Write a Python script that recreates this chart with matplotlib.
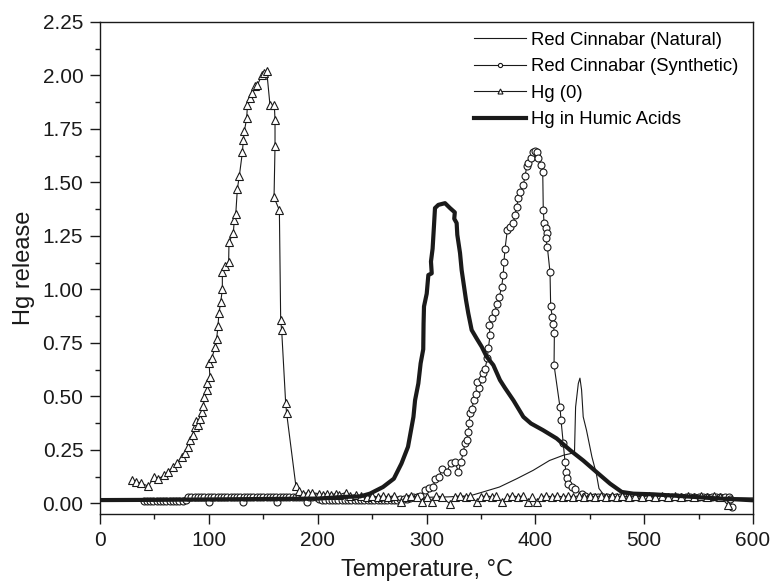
import matplotlib
matplotlib.use("Agg")
import matplotlib.pyplot as plt
from matplotlib.ticker import MultipleLocator, FormatStrFormatter

plt.rcParams["font.family"] = ["Liberation Sans", "DejaVu Sans"]

# Red Cinnabar (Natural) - thin line, no markers
nat_t = [0, 20, 40, 60, 80, 100, 120, 140, 160, 180, 200, 220, 240, 260, 280,
         300, 320, 340, 352, 367, 383, 398, 413, 426, 433, 436, 437, 439.5, 441,
         442.5, 444, 447, 452, 456, 458.5, 462.5, 470, 490, 520, 550, 580, 600]
nat_v = [0.018, 0.018, 0.02, 0.02, 0.02, 0.022, 0.022, 0.022, 0.024, 0.024,
         0.025, 0.025, 0.026, 0.026, 0.027, 0.028, 0.03, 0.035, 0.053, 0.076,
         0.115, 0.154, 0.2, 0.225, 0.233, 0.24, 0.45, 0.56, 0.585, 0.53, 0.404,
         0.342, 0.217, 0.14, 0.069, 0.042, 0.035, 0.032, 0.03, 0.028, 0.026, 0.025]

# Red Cinnabar (Synthetic) - open circles
syn_t = [40, 43, 46, 49, 52, 55, 58, 61, 64, 67, 70, 73, 76, 79,
         81, 84, 87, 90, 93, 96, 99, 100.5, 102, 105, 108, 111, 114, 117, 120,
         123, 126, 129, 131.6, 132, 135, 138, 141, 144, 147, 150, 153, 156, 159,
         162.2, 162, 165, 168, 171, 174, 177, 180, 183, 186, 189, 190, 192, 195,
         198, 201, 204, 207, 210, 213, 216, 219, 222, 225, 228, 231, 234, 237,
         240, 243, 246, 249, 252, 255, 258, 261, 264, 267, 270, 273, 276, 279,
         282, 285, 288, 291, 294,
         298.6, 302, 306.3, 307.8, 311.8, 313.9, 318.5, 322.2, 326.2, 329.3,
         331.7, 333.8, 335.4, 336.9, 338.4, 339, 340, 341.5, 343.7, 345.5, 348.5,
         346.7, 350.6, 352.2, 353.8, 355.9, 356.8, 358.4, 357.5, 359.9, 363,
         364.4, 366.9, 369, 370.5, 371.2, 372.1, 374.3, 376.7, 379.8, 381.3,
         382.8, 384.4, 385.9, 389, 390.5, 392.1, 393.6, 395.8, 398.2, 400,
         401.2, 402.8, 404.9, 406.8, 407.3, 408, 409.5, 410.4, 409.5, 411,
         413.5, 414.1, 415.6, 416.5, 417.5, 417.2, 422.7, 423.6, 425.7, 427.3,
         427.9, 429.4, 430.3, 433.3, 436.5, 442.6, 446,
         450, 454, 458, 462, 466, 470, 474, 478, 482, 486, 490, 494, 498, 502,
         506, 510, 514, 518, 522, 526, 530, 534, 538, 542, 546, 550, 554, 558,
         562, 566, 570, 574, 578, 579, 580.4]
syn_v = [0.012, 0.013, 0.012, 0.012, 0.013, 0.012, 0.012, 0.013, 0.012, 0.012,
         0.013, 0.012, 0.013, 0.014,
         0.03, 0.03, 0.031, 0.03, 0.03, 0.031, 0.03, 0.006, 0.03, 0.031, 0.03,
         0.03, 0.031, 0.03, 0.03, 0.031, 0.03, 0.03, 0.006, 0.031, 0.03, 0.03,
         0.031, 0.03, 0.03, 0.031, 0.03, 0.03, 0.031, 0.006, 0.03, 0.03, 0.031,
         0.03, 0.03, 0.031, 0.03, 0.03, 0.031, 0.03, 0.006, 0.03, 0.031, 0.03,
         0.02, 0.015, 0.014, 0.015, 0.014, 0.015, 0.014, 0.015, 0.014, 0.015,
         0.014, 0.015, 0.014, 0.015, 0.014, 0.015, 0.014, 0.015, 0.014, 0.015,
         0.014, 0.015, 0.014, 0.015, 0.016, 0.018, 0.02, 0.022, 0.025, 0.028,
         0.03, 0.035,
         0.06, 0.07, 0.076, 0.115, 0.123, 0.16, 0.147, 0.186, 0.193, 0.147,
         0.193, 0.24, 0.28, 0.295, 0.334, 0.373, 0.42, 0.443, 0.482, 0.513,
         0.537, 0.568, 0.579, 0.607, 0.63, 0.677, 0.724, 0.786, 0.833, 0.865,
         0.896, 0.93, 0.966, 1.01, 1.067, 1.13, 1.188, 1.278, 1.293, 1.31,
         1.348, 1.387, 1.426, 1.457, 1.489, 1.528, 1.575, 1.59, 1.614, 1.64,
         1.645, 1.64, 1.614, 1.582, 1.551, 1.372, 1.31, 1.286, 1.263, 1.24,
         1.2, 1.08, 0.92, 0.872, 0.84, 0.794, 0.646, 0.448, 0.389, 0.28, 0.193,
         0.147, 0.12, 0.092, 0.076, 0.069, 0.042, 0.035,
         0.03, 0.031, 0.03, 0.03, 0.031, 0.03, 0.03, 0.031, 0.03, 0.03, 0.031,
         0.03, 0.03, 0.031, 0.03, 0.03, 0.031, 0.03, 0.03, 0.031, 0.03, 0.03,
         0.031, 0.03, 0.03, 0.031, 0.03, 0.03, 0.031, 0.03, 0.03, 0.031, 0.03,
         0.02, -0.017]

# Hg (0) - open triangles
hg0_t = [29, 33, 37.4, 44.4, 49.6, 53.5, 58.8, 62.8, 66.8, 70.4, 75.1, 78.1,
         81.1, 82.7, 85.1, 87.3, 88.2, 90.3, 91.9, 93.4, 95, 95.9, 98, 98.6,
         101, 100.2, 102.6, 105.7, 107.2, 108.4, 109.3, 110.9, 112.4, 112.4,
         114.9, 118.2, 118.5, 122.5, 123.4, 124.7, 126.2, 128, 130.8, 131.7,
         132.6, 134.8, 135.4, 138.1, 139.9, 142.4, 144.6, 148.6, 150.5, 153.2,
         156.2, 160.2, 160.8, 160.8, 159.9, 164.8, 166, 166.9, 170.6, 171.5,
         180, 182.9, 186.8, 191, 194.5, 201, 205, 208.7, 212, 216.4, 220, 225.6,
         230, 235, 240, 245, 250, 255, 260, 265, 270, 277, 281, 286, 291, 295.6,
         300, 304.8, 309, 314, 321.6, 326, 331, 336, 340, 346.1, 350, 355, 360,
         364, 369.1, 374, 379, 384, 389, 393.6, 397, 401.2, 405, 410, 415, 420,
         425, 430, 435, 440, 445, 450, 455, 460, 465, 470, 475, 480, 486, 492,
         498, 504, 510, 516, 522, 528, 534, 540, 546, 552, 558, 564, 570, 577.4]
hg0_v = [0.108, 0.1, 0.095, 0.08, 0.123, 0.115, 0.13, 0.147, 0.17, 0.186, 0.217,
         0.233, 0.264, 0.295, 0.318, 0.357, 0.385, 0.365, 0.396, 0.427, 0.454,
         0.498, 0.53, 0.56, 0.59, 0.654, 0.677, 0.73, 0.77, 0.83, 0.89, 0.94,
         1.0, 1.08, 1.11, 1.13, 1.22, 1.265, 1.325, 1.35, 1.47, 1.53, 1.64, 1.7,
         1.74, 1.8, 1.86, 1.895, 1.92, 1.95, 1.955, 2.0, 2.01, 2.02, 1.86, 1.86,
         1.79, 1.67, 1.43, 1.37, 0.857, 0.81, 0.467, 0.42,
         0.08, 0.058, 0.045, 0.05, 0.05, 0.045, 0.04, 0.045, 0.04, 0.045, 0.04,
         0.05, 0.035, 0.04, 0.035, 0.03, 0.035, 0.03, 0.035, 0.03, 0.035, 0.006,
         0.03, 0.035, 0.03, 0.006, 0.03, 0.006, 0.035, 0.03, -0.003, 0.03, 0.035,
         0.03, 0.035, 0.006, 0.03, 0.035, 0.03, 0.035, 0.006, 0.03, 0.035, 0.03,
         0.035, 0.006, 0.03, 0.006, 0.03, 0.035, 0.03, 0.035, 0.03, 0.035, 0.03,
         0.035, 0.03, 0.035, 0.03, 0.035, 0.03, 0.035, 0.03, 0.035, 0.03, 0.035,
         0.03, 0.035, 0.03, 0.035, 0.03, 0.035, 0.03, 0.035, 0.03, 0.035, 0.03,
         0.035, 0.03, -0.01]

# Hg in Humic Acids - thick line
hum_t = [0, 50, 100, 150, 200, 225, 239, 248, 260, 270, 277, 283, 285.5, 288,
         289.5, 292.5, 294.6, 297, 297.3, 297.7, 300.2, 301.7, 304.8, 304.1,
         305.6, 306.9, 307.8, 310.9, 317, 321.6, 326, 325.5, 327.7, 328.3,
         330.8, 332.3, 334.5, 336.3, 338.4, 341.5, 346, 350.7, 355.3, 361.4,
         367.5, 372, 380, 389, 396, 407, 419.6, 432, 444, 456, 468.6, 479.4,
         490, 508, 530, 560, 600]
hum_v = [0.015, 0.016, 0.018, 0.02, 0.022, 0.03, 0.032, 0.045, 0.076, 0.115,
         0.186, 0.264, 0.334, 0.404, 0.482, 0.56, 0.654, 0.72, 0.84, 0.92, 0.98,
         1.067, 1.075, 1.13, 1.19, 1.3, 1.38, 1.395, 1.403, 1.38, 1.36, 1.33,
         1.31, 1.255, 1.17, 1.09, 1.013, 0.95, 0.888, 0.81, 0.771, 0.732, 0.685,
         0.646, 0.576, 0.54, 0.48, 0.404, 0.373, 0.342, 0.303, 0.248, 0.2, 0.147,
         0.092, 0.053, 0.045, 0.042, 0.035, 0.025, 0.014]

labels = ["Red Cinnabar (Natural)", "Red Cinnabar (Synthetic)", "Hg (0)",
          "Hg in Humic Acids"]

ink = "#1a1a1a"

fig = plt.figure(figsize=(7.73, 5.86), dpi=100)
ax = fig.add_axes([0.1294, 0.1229, 0.8447, 0.8396])

ax.plot(nat_t, nat_v, color=ink, lw=0.8, label=labels[0])
ax.plot(syn_t, syn_v, color=ink, lw=0.8, marker="o", ms=5, mfc="white",
        mec=ink, mew=0.8, label=labels[1])
ax.plot(hg0_t, hg0_v, color=ink, lw=0.8, marker="^", ms=6, mfc="white",
        mec=ink, mew=0.8, label=labels[2])
ax.plot(hum_t, hum_v, color=ink, lw=3, solid_joinstyle="round", label=labels[3])

ax.set_xlim(0, 600)
ax.set_ylim(-0.05, 2.25)
ax.xaxis.set_major_locator(MultipleLocator(100))
ax.xaxis.set_minor_locator(MultipleLocator(50))
ax.yaxis.set_major_locator(MultipleLocator(0.25))
ax.yaxis.set_minor_locator(MultipleLocator(0.125))
ax.yaxis.set_major_formatter(FormatStrFormatter("%.2f"))

ax.tick_params(which="both", direction="out", top=False, right=False,
               width=1.0, color=ink, labelcolor=ink, labelsize=15, pad=5)
ax.tick_params(which="major", length=7)
ax.tick_params(which="minor", length=3.6)
for s in ax.spines.values():
    s.set_linewidth(1.0)
    s.set_color(ink)

ax.set_xlabel("Temperature, \u00b0C", fontsize=17, color=ink, labelpad=7)
ax.set_ylabel("Hg release", fontsize=17, color=ink, labelpad=5)

ax.legend(loc="upper left", bbox_to_anchor=(0.6132, 0.946),
          bbox_transform=fig.transFigure, frameon=False, fontsize=13.3,
          handlelength=2.8, handletextpad=0.3, labelspacing=0.52,
          borderpad=0, borderaxespad=0, numpoints=1, markerscale=0.6)

fig.savefig("out.png", dpi=100)
